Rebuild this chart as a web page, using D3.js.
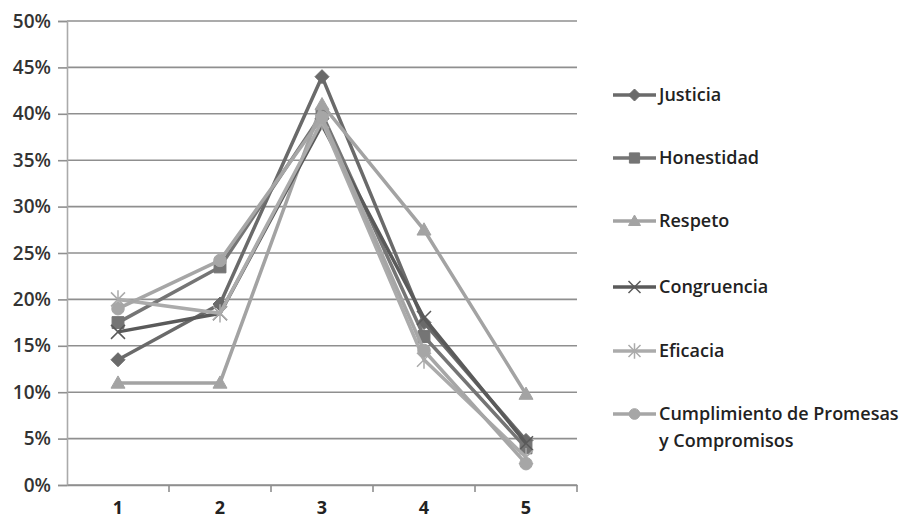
<!DOCTYPE html>
<html>
<head>
<meta charset="utf-8">
<script src="https://cdn.jsdelivr.net/npm/d3@7"></script>
<style>
  body { margin: 0; background: #fff; }
  text { font-family: "Open Sans", "DejaVu Sans", sans-serif; }
</style>
</head>
<body>
<div id="chart-area"></div>
<script>
const categories = ["1", "2", "3", "4", "5"];
const seriesNames = ["Justicia", "Honestidad", "Respeto", "Congruencia", "Eficacia", "Cumplimiento de Promesas y Compromisos"];
const justicia = [0.135, 0.195, 0.44, 0.175, 0.048];
const honestidad = [0.175, 0.235, 0.40, 0.16, 0.04];
const respeto = [0.11, 0.11, 0.41, 0.275, 0.098];
const congruencia = [0.165, 0.185, 0.388, 0.18, 0.045];
const eficacia = [0.20, 0.185, 0.392, 0.135, 0.03];
const cumplimiento = [0.19, 0.242, 0.396, 0.145, 0.023];
const yTicks = [0, 0.05, 0.1, 0.15, 0.2, 0.25, 0.3, 0.35, 0.4, 0.45, 0.5];

const seriesValues = [justicia, honestidad, respeto, congruencia, eficacia, cumplimiento];
const colors = ["#6a6a6a", "#757575", "#a3a3a3", "#5a5a5a", "#ababab", "#a6a6a6"];
const symbols = ["diamond", "square", "triangle", "x", "star", "circle"];

const width = 904, height = 521;
const plot = { left: 67, right: 577, top: 21, bottom: 485 };

const svg = d3.select("#chart-area")
  .append("svg")
    .attr("width", width)
    .attr("height", height);

const xScale = d3.scaleBand()
  .domain(categories)
  .range([plot.left, plot.right]);

const yScale = d3.scaleLinear()
  .domain([0, 0.5])
  .range([plot.bottom, plot.top]);

// gridlines
svg.append("g")
  .selectAll("line")
  .data(yTicks)
  .enter()
  .append("line")
    .attr("x1", plot.left)
    .attr("x2", plot.right)
    .attr("y1", d => yScale(d))
    .attr("y2", d => yScale(d))
    .attr("stroke", "#8f8f8f")
    .attr("stroke-width", 1.6);

const yAxis = d3.axisLeft(yScale)
  .tickValues(yTicks)
  .tickFormat(d3.format(".0%"))
  .tickSize(9)
  .tickPadding(7);

const yG = svg.append("g")
  .attr("transform", `translate(${plot.left},0)`)
  .call(yAxis);
yG.attr("font-size", null);
yG.select(".domain").attr("stroke", "#aaa").attr("stroke-width", 1.6);
yG.selectAll(".tick line").attr("stroke", "#8f8f8f").attr("stroke-width", 1.6);
yG.selectAll("text")
  .attr("font-size", 19)
  .style("font-size", "19px")
  .style("font-weight", "600")
  .attr("fill", "#333");

const xAxis = d3.axisBottom(xScale).tickSize(0).tickPadding(16);
const xG = svg.append("g")
  .attr("transform", `translate(0,${plot.bottom})`)
  .call(xAxis);
xG.select(".domain").attr("stroke", "#8f8f8f").attr("stroke-width", 1.6);
xG.selectAll("text")
  .style("font-size", "18px")
  .style("font-weight", "700")
  .attr("fill", "#222");

// category boundary ticks
svg.append("g")
  .selectAll("line")
  .data(categories)
  .enter()
  .append("line")
    .attr("x1", d => xScale(d) + xScale.bandwidth())
    .attr("x2", d => xScale(d) + xScale.bandwidth())
    .attr("y1", plot.bottom)
    .attr("y2", plot.bottom + 7)
    .attr("stroke", "#8f8f8f")
    .attr("stroke-width", 1.6);

function markerPath(kind, s) {
  if (kind === "x") {
    return `M${-s},${-s}L${s},${s}M${-s},${s}L${s},${-s}`;
  }
  if (kind === "star") {
    return `M${-s},${-s}L${s},${s}M${-s},${s}L${s},${-s}M0,${-s * 1.3}L0,${s * 1.3}`;
  }
  if (kind === "diamond") {
    return `M0,${-s}L${s},0L0,${s}L${-s},0Z`;
  }
  if (kind === "square") {
    return `M${-s * 0.85},${-s * 0.85}H${s * 0.85}V${s * 0.85}H${-s * 0.85}Z`;
  }
  if (kind === "triangle") {
    return `M0,${-s}L${s},${s * 0.75}L${-s},${s * 0.75}Z`;
  }
  return d3.symbol().type(d3.symbolCircle).size(Math.PI * s * s * 0.8)();
}

const line = d3.line()
  .x((d, i) => xScale(categories[i]) + xScale.bandwidth() / 2)
  .y(d => yScale(d));

seriesValues.forEach((vals, s) => {
  const g = svg.append("g");
  g.append("path")
    .datum(vals)
    .attr("fill", "none")
    .attr("stroke", colors[s])
    .attr("stroke-width", 3.5)
    .attr("d", line);

  const isLine = symbols[s] === "x" || symbols[s] === "star";
  g.selectAll("path.marker")
    .data(vals)
    .enter()
    .append("path")
      .attr("class", "marker")
      .attr("transform", (d, i) => `translate(${xScale(categories[i]) + xScale.bandwidth() / 2},${yScale(d)})`)
      .attr("d", markerPath(symbols[s], 7))
      .attr("fill", isLine ? "none" : colors[s])
      .attr("stroke", colors[s])
      .attr("stroke-width", isLine ? 1.5 : 1);
});

// legend
const legendY = [95, 158, 221, 287, 351, 414];
const legend = svg.append("g");
seriesNames.forEach((name, i) => {
  const row = legend.append("g")
    .attr("transform", `translate(613, ${legendY[i]})`);
  row.append("line")
    .attr("x1", 0).attr("x2", 43)
    .attr("y1", 0).attr("y2", 0)
    .attr("stroke", colors[i])
    .attr("stroke-width", 3.5);
  const isLine = symbols[i] === "x" || symbols[i] === "star";
  row.append("path")
    .attr("transform", "translate(21.5,0)")
    .attr("d", markerPath(symbols[i], 6))
    .attr("fill", isLine ? "none" : colors[i])
    .attr("stroke", colors[i])
    .attr("stroke-width", isLine ? 1.5 : 1);
  const words = name === "Cumplimiento de Promesas y Compromisos"
    ? ["Cumplimiento de Promesas", "y Compromisos"] : [name];
  const t = row.append("text")
    .attr("x", 46)
    .attr("y", 6)
    .style("font-size", "18px")
    .style("font-weight", "600")
    .attr("fill", "#222");
  words.forEach((w, k) => {
    t.append("tspan").attr("x", 46).attr("dy", k === 0 ? 0 : 27).text(w);
  });
});
</script>
</body>
</html>
